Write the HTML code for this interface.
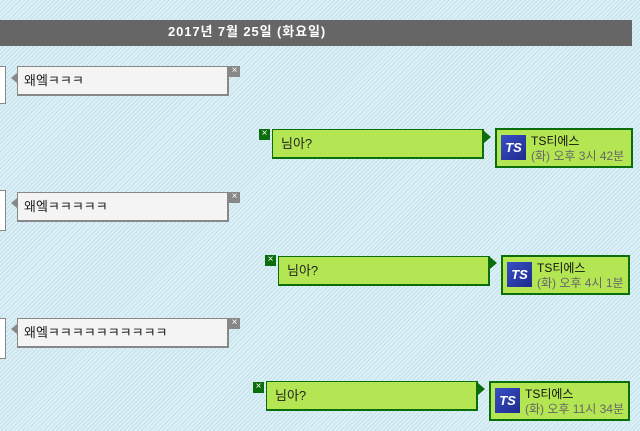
<!DOCTYPE html>
<html><head><meta charset="utf-8"><style>
body{margin:0;width:640px;height:431px;overflow:hidden;position:relative;
background:#dcf0f7 repeating-linear-gradient(135deg,#dcf0f7 0,#dcf0f7 2px,#c5dfe8 2px,#c5dfe8 3px);
font-family:"Liberation Sans","Noto Sans CJK KR","NanumGothic",sans-serif;}
.a{position:absolute;box-sizing:border-box}
.hdr{left:0;top:20;width:632px;height:26px;background:#666;color:#fff;font-weight:bold;font-size:13px;line-height:24px;letter-spacing:0.9px}
.frag{background:#fff;border:1px solid #888;border-left:none;width:6px}
.gray{background:#f4f4f4;border:2px solid #888;border-top-width:1px;border-left-width:1px;width:212px;height:30px;font-size:13px;color:#222;padding:5px 0 0 6px;line-height:18px}
.gx{background:#888;color:#fff;width:11px;height:11px;font-size:10px;line-height:10px;text-align:center}
.tail{width:0;height:0;border-top:5px solid transparent;border-bottom:5px solid transparent;border-right:6px solid #888}
.green{background:#b3e652;border:1px solid #0a6e0a;border-width:1px 2px 2px 1px;width:212px;height:30px;font-size:13px;color:#222;padding:4px 0 0 8px;line-height:20px}
.gxx{background:#0a6e0a;color:#fff;width:11px;height:11px;font-size:10px;line-height:10px;text-align:center}
.arr{width:0;height:0;border-top:6px solid transparent;border-bottom:6px solid transparent;border-left:7px solid #0a6e0a}
.prof{background:#b3e652;border:2px solid #0a6e0a;height:40px;font-size:12px;color:#111;padding:4px 0 0 34px;line-height:15px;white-space:nowrap}
.prof .t{color:#666}
.logo{position:absolute;left:4px;top:5px;width:25px;height:25px;background:linear-gradient(135deg,#3a4fc8,#1d2b8a);color:#fff;font-style:italic;font-weight:bold;font-size:13px;line-height:25px;text-align:center}
</style></head><body>
<div class="a hdr" style="top:20px"><span style="position:absolute;left:168px">2017년 7월 25일 (화요일)</span></div>

<div class="a frag" style="left:0;top:66px;height:38px"></div>
<div class="a tail" style="left:11px;top:73px"></div>
<div class="a gray" style="left:17px;top:66px">왜엨ㅋㅋㅋ</div>
<div class="a gx" style="left:229px;top:66px">×</div>

<div class="a gxx" style="left:259px;top:129px">×</div>
<div class="a green" style="left:272px;top:129px">님아?</div>
<div class="a arr" style="left:484px;top:131px"></div>
<div class="a prof" style="left:495px;top:128px;width:138px"><div class="logo">TS</div>TS티에스<br><span class="t">(화) 오후 3시 42분</span></div>

<div class="a frag" style="left:0;top:190px;height:41px"></div>
<div class="a tail" style="left:11px;top:198px"></div>
<div class="a gray" style="left:17px;top:192px">왜엨ㅋㅋㅋㅋㅋ</div>
<div class="a gx" style="left:229px;top:192px">×</div>

<div class="a gxx" style="left:265px;top:255px">×</div>
<div class="a green" style="left:278px;top:256px">님아?</div>
<div class="a arr" style="left:490px;top:257px"></div>
<div class="a prof" style="left:501px;top:255px;width:129px"><div class="logo">TS</div>TS티에스<br><span class="t">(화) 오후 4시 1분</span></div>

<div class="a frag" style="left:0;top:318px;height:41px"></div>
<div class="a tail" style="left:11px;top:324px"></div>
<div class="a gray" style="left:17px;top:318px">왜엨ㅋㅋㅋㅋㅋㅋㅋㅋㅋㅋ</div>
<div class="a gx" style="left:229px;top:318px">×</div>

<div class="a gxx" style="left:253px;top:382px">×</div>
<div class="a green" style="left:266px;top:381px">님아?</div>
<div class="a arr" style="left:478px;top:383px"></div>
<div class="a prof" style="left:489px;top:381px;width:141px"><div class="logo">TS</div>TS티에스<br><span class="t">(화) 오후 11시 34분</span></div>
</body></html>
